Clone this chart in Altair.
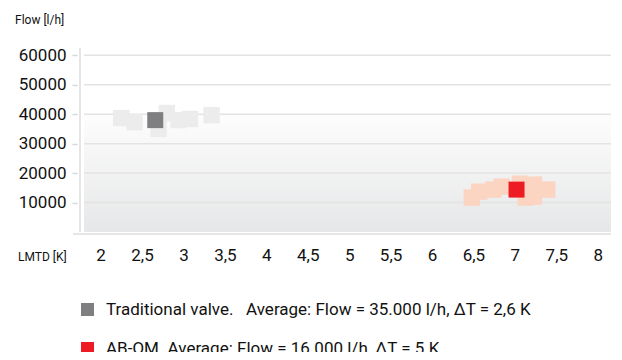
import altair as alt
import pandas as pd

FONT = "Roboto, Liberation Sans, sans-serif"

# ---- data ----
series_names = [
    "Traditional valve.\u00a0\u00a0\u00a0Average: Flow = 35.000 l/h, \u0394T = 2,6 K",
    "AB-QM. Average: Flow = 16.000 l/h, \u0394T = 5 K",
]
main_lmtd = [2.66, 7.02]
main_flow = [38000, 14400]

trad_spread_lmtd = [2.25, 2.41, 2.70, 2.80, 2.94, 3.08, 3.34]
trad_spread_flow = [38700, 37300, 35000, 40400, 38000, 38400, 39700]

abqm_spread_lmtd = [6.48, 6.57, 6.74, 6.84, 7.06, 7.13, 7.23, 7.23, 7.39]
abqm_spread_flow = [11700, 13700, 14400, 15400, 16400, 11700, 16100, 12000, 14400]

x_ticks = [2, 2.5, 3, 3.5, 4, 4.5, 5, 5.5, 6, 6.5, 7, 7.5, 8]
y_ticks = [10000, 20000, 30000, 40000, 50000, 60000]
x_domain = [1.8, 8.16]
y_domain = [0, 62500]
band_top = 40000

W, H = 527, 184

main_df = pd.DataFrame({"lmtd": main_lmtd, "flow": main_flow, "series": series_names})
spread_df = pd.DataFrame({
    "lmtd": trad_spread_lmtd + abqm_spread_lmtd,
    "flow": trad_spread_flow + abqm_spread_flow,
    "group": ["trad"] * len(trad_spread_lmtd) + ["abqm"] * len(abqm_spread_lmtd),
})
band_df = pd.DataFrame({"x": [x_domain[0]], "x2": [x_domain[1]], "y": [band_top], "y2": [0]})
grid_df = pd.DataFrame({"flow": y_ticks})

xscale = alt.Scale(domain=x_domain, nice=False, zero=False)
yscale = alt.Scale(domain=y_domain, nice=False)
xaxis = alt.Axis(values=x_ticks, labelExpr="replace(format(datum.value, '~g'), '.', ',')",
                 ticks=False, domain=False, grid=False, labelFontSize=17, labelFont=FONT,
                 labelColor="#111111", labelPadding=15, title=None, labelFlush=False)
yaxis = alt.Axis(values=y_ticks, format="d", ticks=True, tickSize=5, tickColor="#d8d8d8",
                 tickWidth=1.5, domain=False, grid=False, offset=7, labelFontSize=17,
                 labelFont=FONT, labelColor="#111111", labelPadding=6, title=None)


def X(field):
    return alt.X(field, type="quantitative", scale=xscale, axis=xaxis)


def Y(field):
    return alt.Y(field, type="quantitative", scale=yscale, axis=yaxis)


band = alt.Chart(band_df).mark_rect(
    fill=alt.Gradient(gradient="linear",
                      stops=[alt.GradientStop(color="#fdfdfd", offset=0),
                             alt.GradientStop(color="#e6e7e8", offset=1)],
                      x1=0, x2=0, y1=0, y2=1)
).encode(x=X("x"), x2="x2", y=Y("y"), y2="y2")

grid = alt.Chart(grid_df).mark_rule(color="#e3e3e3", strokeWidth=1.5).encode(y=Y("flow"))

spread = alt.Chart(spread_df).mark_square(size=270, opacity=1, filled=True).encode(
    x=X("lmtd"), y=Y("flow"),
    color=alt.Color("group:N", scale=alt.Scale(domain=["trad", "abqm"], range=["#ececec", "#fcd4c2"]),
                    legend=None),
)

main = alt.Chart(main_df).mark_square(size=256, opacity=1, filled=True).encode(
    x=X("lmtd"), y=Y("flow"),
    color=alt.Color("series:N", scale=alt.Scale(domain=series_names, range=["#7f7f82", "#ed1c24"]),
                    legend=alt.Legend(orient="none", legendX=-5, legendY=253, title=None,
                                      symbolType="square", symbolSize=169, symbolStrokeWidth=0,
                                      labelFontSize=17, labelFont=FONT, labelColor="#111111",
                                      labelLimit=600, rowPadding=21, labelOffset=10, padding=0,
                                      symbolOpacity=1)),
)

vline = alt.Chart(pd.DataFrame({"a": [0]})).mark_rule(color="#e6e6e6", strokeWidth=2).encode(
    x=alt.value(-4), y=alt.value(0), y2=alt.value(H))
hline = alt.Chart(pd.DataFrame({"a": [0]})).mark_rule(color="#e6e6e6", strokeWidth=2).encode(
    x=alt.value(-11), x2=alt.value(W), y=alt.value(H + 2))

ytitle = alt.Chart(pd.DataFrame({"t": ["Flow [l/h]"]})).mark_text(
    align="left", baseline="middle", fontSize=12, font=FONT, color="#111111"
).encode(x=alt.value(-69), y=alt.value(-28), text="t")
xtitle = alt.Chart(pd.DataFrame({"t": ["LMTD [K]"]})).mark_text(
    align="left", baseline="middle", fontSize=12, font=FONT, color="#111111"
).encode(x=alt.value(-66), y=alt.value(H + 25), text="t")

chart = alt.layer(band, grid, spread, main, vline, hline, ytitle, xtitle).resolve_scale(
    color="independent"
).properties(
    width=W, height=H,
    autosize=alt.AutoSizeParams(type="none"),
    padding={"left": 76, "top": 40, "right": 3, "bottom": 120},
    background="white",
).configure_view(stroke=None)

chart.save("out.html", embed_options={"renderer": "svg", "actions": False})
